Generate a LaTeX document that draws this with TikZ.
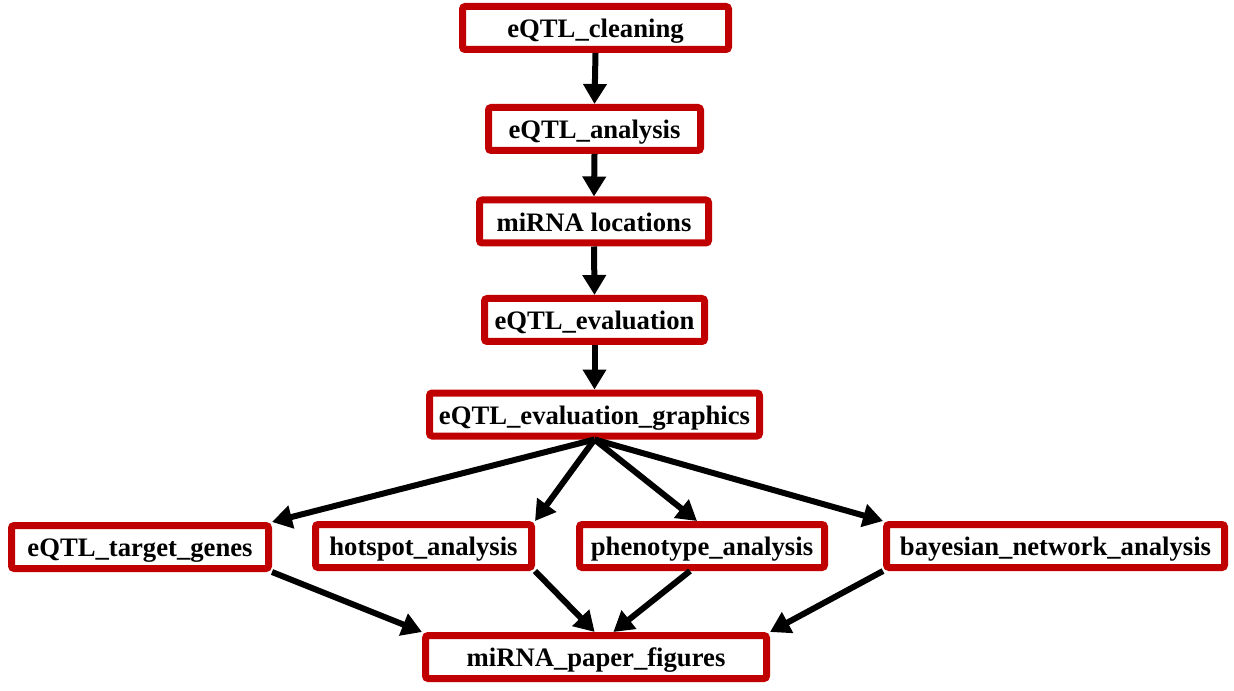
\documentclass[tikz,border=0pt]{standalone}
\usepackage{fontspec}
\setmainfont{Liberation Serif}
\usetikzlibrary{arrows.meta}
\definecolor{boxred}{HTML}{C00000}
\tikzset{
  box/.style={draw=boxred, line width=5.25pt, rounded corners=2pt, fill=white,
    inner sep=0pt, minimum height={43*0.75pt}, text height=14.5pt, text depth=0pt,
    font=\fontsize{20pt}{24pt}\selectfont\bfseries},
  conn/.style={draw=black, line width=4.5pt,
    -{Triangle[length=15pt,width=17pt]}}
}
\begin{document}
\begin{tikzpicture}[x=0.75pt,y=-0.75pt]
\useasboundingbox[fill=white] (0,0) rectangle (1234,691);
\node[box, minimum width={266*0.75pt}] (c1) at (595.5,28) {eQTL\_cleaning};
\node[box, minimum width={212*0.75pt}] (c2) at (594.5,129) {eQTL\_analysis};
\node[box, minimum width={229*0.75pt}] (c3) at (594,221.5) {miRNA locations};
\node[box, minimum width={220*0.75pt}] (c4) at (594.5,320) {eQTL\_evaluation};
\node[box, minimum width={330*0.75pt}] (c5) at (594.5,414.5) {eQTL\_evaluation\_graphics};
\node[box, minimum width={257*0.75pt}] (t) at (140,547) {eQTL\_target\_genes};
\node[box, minimum width={216*0.75pt}] (h) at (423.5,546) {hotspot\_analysis};
\node[box, minimum width={245*0.75pt}] (p) at (702,546) {phenotype\_analysis};
\node[box, minimum width={338*0.75pt}] (b) at (1055.5,546) {bayesian\_network\_analysis};
\node[box, minimum width={341*0.75pt}] (f) at (596,657) {miRNA\_paper\_figures};

\draw[conn] (c1.south) -- (c2.north);
\draw[conn] (c2.south) -- (c3.north);
\draw[conn] (c3.south) -- (c4.north);
\draw[conn] (c4.south) -- (c5.north);

\draw[conn] (c5.south) -- (t.north east);
\draw[conn] (c5.south) -- (h.north east);
\draw[conn] (c5.south) -- ([xshift=-3.75pt]p.north);
\draw[conn] (c5.south) -- (b.north west);

\draw[conn] (t.south east) -- (f.north west);
\draw[conn] (h.south east) -- ([xshift=-1pt]f.north);
\draw[conn] ([xshift=-9pt]p.south) -- ([xshift=13pt]f.north);
\draw[conn] (b.south west) -- (f.north east);
\end{tikzpicture}
\end{document}
